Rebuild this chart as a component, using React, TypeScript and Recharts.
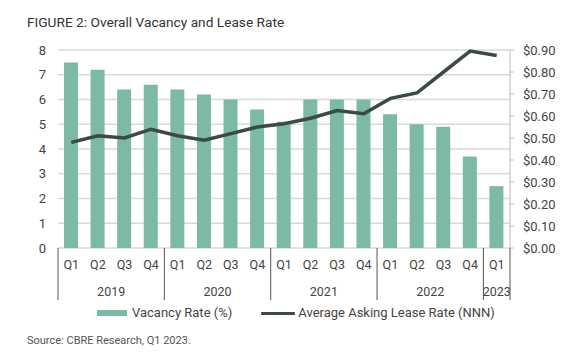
import React from "react";
import {
  ComposedChart,
  Bar,
  Line,
  XAxis,
  YAxis,
  CartesianGrid,
} from "recharts";

const quarters = ["Q1", "Q2", "Q3", "Q4", "Q1", "Q2", "Q3", "Q4", "Q1", "Q2", "Q3", "Q4", "Q1", "Q2", "Q3", "Q4", "Q1"];
const years = ["2019", "2019", "2019", "2019", "2020", "2020", "2020", "2020", "2021", "2021", "2021", "2021", "2022", "2022", "2022", "2022", "2023"];
const vacancyRate = [7.5, 7.2, 6.4, 6.6, 6.4, 6.2, 6.0, 5.6, 5.1, 6.0, 6.0, 6.0, 5.4, 5.0, 4.9, 3.7, 2.5];
const leaseRate = [0.48, 0.51, 0.5, 0.54, 0.51, 0.49, 0.52, 0.55, 0.565, 0.59, 0.625, 0.61, 0.68, 0.705, 0.8, 0.895, 0.875];

const vacancyTicks = [0, 1, 2, 3, 4, 5, 6, 7, 8];
const leaseTicks = [0, 0.1, 0.2, 0.3, 0.4, 0.5, 0.6, 0.7, 0.8, 0.9];

const data = quarters.map((q, i) => ({
  key: i,
  q,
  year: years[i],
  vacancy: vacancyRate[i],
  lease: leaseRate[i],
}));

const FONT = "Roboto, sans-serif";
const BAR_COLOR = "#7cb9a7";
const LINE_COLOR = "#3b4947";
const TEXT = "#444";

// quarter label + year label and separators under each year group
const QuarterTick = (props: any) => {
  const { x, y, index, width, visibleTicksCount } = props;
  const band = width / visibleTicksCount;
  const d = data[index];
  if (!d) return null;
  const isYearStart = index === 0 || data[index - 1].year !== d.year;
  const isLast = index === data.length - 1;
  let count = 0;
  if (isYearStart) {
    count = data.filter((r) => r.year === d.year).length;
  }
  return (
    <g>
      <text x={x} y={y + 21} textAnchor="middle" fill={TEXT} fontSize={12.5} fontFamily={FONT}>
        {d.q}
      </text>
      {isYearStart && (
        <>
          <line x1={x - band / 2} x2={x - band / 2} y1={y} y2={y + 52} stroke="#555" strokeWidth={1} />
          <text
            x={x + ((count - 1) * band) / 2}
            y={y + 48}
            textAnchor="middle"
            fill={TEXT}
            fontSize={12.5}
            fontFamily={FONT}
          >
            {d.year}
          </text>
        </>
      )}
      {isLast && (
        <line x1={x + band / 2} x2={x + band / 2} y1={y} y2={y + 52} stroke="#555" strokeWidth={1} />
      )}
    </g>
  );
};

export default function App() {
  return (
    <div
      style={{
        position: "absolute",
        left: 0,
        top: 0,
        width: 574,
        height: 355,
        background: "#fff",
        fontFamily: FONT,
      }}
    >
      <div
        style={{
          position: "absolute",
          left: 27,
          top: 13,
          fontSize: 13.7,
          lineHeight: "18px",
          color: "#333",
        }}
      >
        FIGURE 2: Overall Vacancy and Lease Rate
      </div>
      <ComposedChart
        width={574}
        height={355}
        data={data}
        margin={{ top: 50, right: 0, left: 0, bottom: 57 }}
      >
        <CartesianGrid yAxisId="left" vertical={false} stroke="#d9d9d9" strokeWidth={1.5} />
        <XAxis
          dataKey="key"
          height={50}
          axisLine={false}
          tickLine={false}
          tickSize={0}
          tickMargin={0}
          interval={0}
          tick={<QuarterTick />}
        />
        <YAxis
          yAxisId="left"
          width={58}
          domain={[0, 8]}
          ticks={vacancyTicks}
          axisLine={false}
          tickLine={false}
          tickSize={0}
          tickMargin={12}
          tick={{ fill: TEXT, fontSize: 13, fontFamily: FONT }}
        />
        <YAxis
          yAxisId="right"
          orientation="right"
          width={64}
          domain={[0, 0.9]}
          ticks={leaseTicks}
          axisLine={{ stroke: "#bbb" }}
          tickLine={{ stroke: "#bbb" }}
          tickSize={4}
          tickMargin={9}
          tickFormatter={(v: number) => `$${v.toFixed(2)}`}
          tick={{ fill: TEXT, fontSize: 13, fontFamily: FONT }}
        />
        <Bar
          yAxisId="left"
          dataKey="vacancy"
          fill={BAR_COLOR}
          barSize={14}
          isAnimationActive={false}
        />
        <Line
          yAxisId="right"
          dataKey="lease"
          type="linear"
          stroke={LINE_COLOR}
          strokeWidth={3.5}
          dot={false}
          activeDot={false}
          isAnimationActive={false}
        />
      </ComposedChart>
      <div
        style={{
          position: "absolute",
          left: 97,
          top: 304,
          display: "flex",
          alignItems: "center",
          fontSize: 13,
          color: TEXT,
          lineHeight: "18px",
        }}
      >
        <span style={{ display: "inline-block", width: 30, height: 6, background: BAR_COLOR, marginRight: 5 }} />
        <span>Vacancy Rate (%)</span>
        <span
          style={{
            display: "inline-block",
            width: 34,
            height: 3,
            background: LINE_COLOR,
            marginLeft: 29,
            marginRight: 3,
            borderRadius: 1,
          }}
        />
        <span>Average Asking Lease Rate (NNN)</span>
      </div>
      <div
        style={{
          position: "absolute",
          left: 27,
          top: 334,
          fontSize: 11,
          lineHeight: "14px",
          color: "#555",
        }}
      >
        Source: CBRE Research, Q1 2023.
      </div>
    </div>
  );
}
